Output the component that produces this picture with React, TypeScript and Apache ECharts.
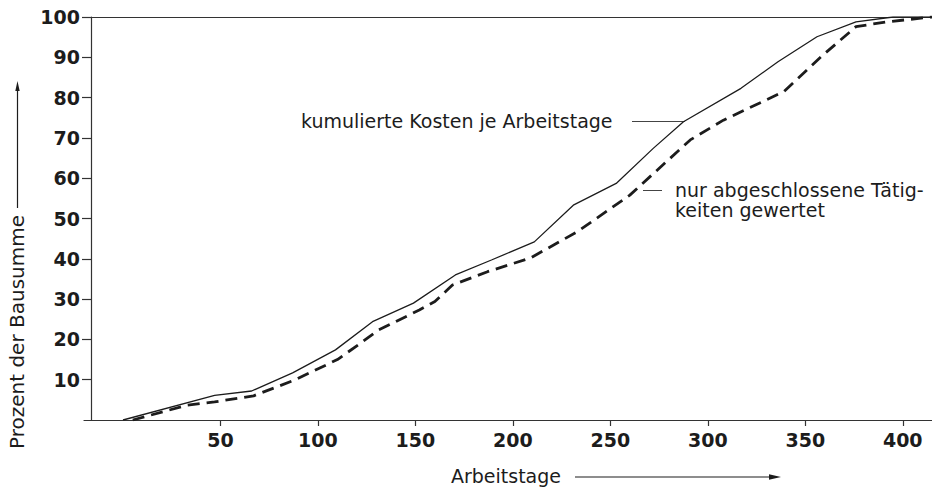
import React, { useEffect, useRef } from "react";
import * as echarts from "echarts";

// Arbeitstage (x) and Prozent der Bausumme (y)
const solidDays = [0, 47, 66, 87, 109, 128, 149, 170.5, 189, 211, 231, 253, 272, 287.5, 317, 336, 356, 376, 395, 415];
const solidValues = [0, 6.1, 7.2, 11.7, 17.4, 24.4, 29.0, 36.0, 39.7, 44.2, 53.3, 58.7, 67.4, 74.0, 82.3, 88.9, 95.1, 98.8, 100, 100];

const dashedDays = [5, 33, 47, 67, 88, 110, 122, 131, 152, 160, 169, 187, 209, 233, 260, 291, 308, 339, 358, 376, 392, 415];
const dashedValues = [0, 3.7, 4.5, 6.0, 9.9, 15.0, 19.1, 22.3, 27.3, 29.4, 33.5, 36.8, 40.2, 46.7, 55.8, 69.5, 74.4, 81.5, 90.1, 97.6, 98.8, 100];

const xTickValues = [50, 100, 150, 200, 250, 300, 350, 400];
const yTickValues = [10, 20, 30, 40, 50, 60, 70, 80, 90, 100];

const solidLabel = "kumulierte Kosten je Arbeitstage";
const dashedLabelLines = ["nur abgeschlossene Tätig-", "keiten gewertet"];
const xName = "Arbeitstage";
const yName = "Prozent der Bausumme";

const INK = "#1c1c1c";
const FONT = "DejaVu Sans";

export default function App() {
  const ref = useRef<HTMLDivElement>(null);

  useEffect(() => {
    document.body.style.margin = "0";
    const chart = echarts.init(ref.current as HTMLDivElement, null, { renderer: "svg" });
    const tickLabel = {
      fontFamily: FONT,
      fontWeight: "bold" as const,
      fontSize: 19,
      color: INK,
    };
    chart.setOption({
      animation: false,
      backgroundColor: "#ffffff",
      grid: { left: 84, right: 0, top: 17, bottom: 70, containLabel: false, outerBoundsMode: "none" },
      xAxis: [
        {
          type: "value",
          min: -20,
          max: 415,
          position: "bottom",
          axisLine: { show: true, onZero: false, lineStyle: { color: "#333", width: 1.2 } },
          axisTick: { show: true, customValues: xTickValues, length: 6, lineStyle: { color: "#333", width: 1.2 } },
          axisLabel: { ...tickLabel, customValues: xTickValues, margin: 10 },
          splitLine: { show: false },
        },
        {
          type: "value",
          min: -20,
          max: 415,
          position: "top",
          axisLine: { show: true, onZero: false, lineStyle: { color: "#333", width: 1.2 } },
          axisTick: { show: false },
          axisLabel: { show: false },
          splitLine: { show: false },
        },
      ],
      yAxis: {
        type: "value",
        min: 0,
        max: 100,
        offset: -7,
        axisLine: { show: true, onZero: false, lineStyle: { color: "#333", width: 1.2 } },
        axisTick: { show: true, customValues: yTickValues, length: 9, lineStyle: { color: "#333", width: 1.2 } },
        axisLabel: { ...tickLabel, customValues: yTickValues, margin: 11 },
        splitLine: { show: false },
      },
      series: [
        {
          type: "line",
          xAxisIndex: 0,
          data: solidDays.map((d, i) => [d, solidValues[i]]),
          symbol: "none",
          lineStyle: { color: INK, width: 1.3 },
        },
        {
          type: "line",
          xAxisIndex: 0,
          data: dashedDays.map((d, i) => [d, dashedValues[i]]),
          symbol: "none",
          lineStyle: { color: INK, width: 2.8, type: [12, 7], cap: "butt" },
        },
      ],
      graphic: [
        {
          type: "text",
          x: 17,
          y: 332,
          rotation: Math.PI / 2,
          style: { text: yName, font: `20px '${FONT}'`, fill: INK, align: "center", verticalAlign: "middle" },
        },
        { type: "line", shape: { x1: 17.5, y1: 208, x2: 17.5, y2: 88 }, style: { stroke: INK, lineWidth: 1.2 } },
        { type: "polygon", shape: { points: [[17.5, 81], [15.3, 91], [19.7, 91]] }, style: { fill: INK } },
        {
          type: "text",
          x: 506,
          y: 476,
          style: { text: xName, font: `19px '${FONT}'`, fill: INK, align: "center", verticalAlign: "middle" },
        },
        { type: "line", shape: { x1: 575, y1: 477, x2: 774, y2: 477 }, style: { stroke: INK, lineWidth: 1.2 } },
        { type: "polygon", shape: { points: [[781, 477], [769, 474.3], [769, 479.7]] }, style: { fill: INK } },
        {
          type: "text",
          x: 301,
          y: 121,
          style: { text: solidLabel, font: `19px '${FONT}'`, fill: INK, align: "left", verticalAlign: "middle" },
        },
        { type: "line", shape: { x1: 632, y1: 121.5, x2: 685, y2: 121.5 }, style: { stroke: "#444", lineWidth: 1 } },
        {
          type: "text",
          x: 675,
          y: 190,
          style: { text: dashedLabelLines[0], font: `19px '${FONT}'`, fill: INK, align: "left", verticalAlign: "middle" },
        },
        {
          type: "text",
          x: 675,
          y: 210,
          style: { text: dashedLabelLines[1], font: `19px '${FONT}'`, fill: INK, align: "left", verticalAlign: "middle" },
        },
        { type: "line", shape: { x1: 643, y1: 190.5, x2: 662, y2: 190.5 }, style: { stroke: "#444", lineWidth: 1 } },
      ],
    });
    return () => chart.dispose();
  }, []);

  return <div ref={ref} style={{ position: "absolute", left: 0, top: 0, width: 932, height: 490 }} />;
}
